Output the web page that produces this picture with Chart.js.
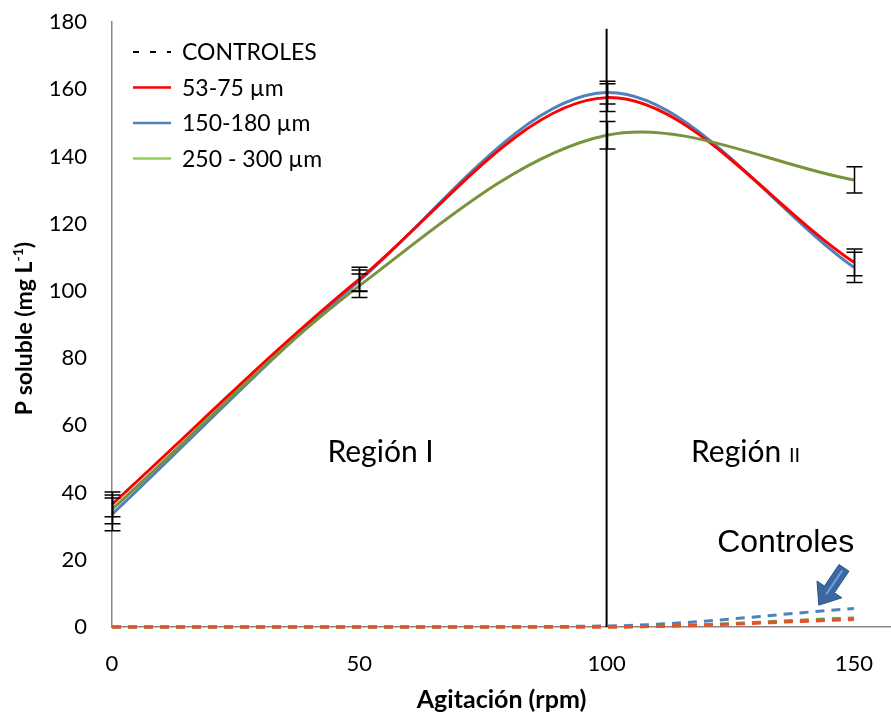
<!DOCTYPE html>
<html>
<head>
<meta charset="utf-8">
<script src="https://cdn.jsdelivr.net/npm/chart.js@4.4.1/dist/chart.umd.min.js"></script>
<style>
  html, body { margin: 0; padding: 0; background: #fff; }
  #wrap { width: 891px; height: 715px; }
</style>
</head>
<body>
<div id="wrap"><canvas id="chart" width="891" height="715"></canvas></div>
<script>
// Agitación (rpm) vs P soluble (mg L-1)
const agitacion = [0, 50, 100, 150];
const xTicks = [0, 50, 100, 150];

const p53_75 = [36.5, 103.5, 157.5, 108.5];
const err53_75 = [3.7, 3.5, 4.1, 4.0];
const p150_180 = [33.5, 103, 159, 107];
const err150_180 = [4.9, 3.2, 3.4, 4.5];
const p250_300 = [35, 101.5, 146.3, 133];
const err250_300 = [4.3, 3.5, 4.1, 3.9];

const ctrl53_75 = [0, 0, 0, 2.2];
const ctrl150_180 = [0, 0, 0.3, 5.5];
const ctrl250_300 = [0, 0, 0, 2.7];

const limiteRegion = 100;   // frontera Región I / Región II

const RED = '#FF0000';
const BLUE = '#4F81BD';
const GREEN = '#77933C';
const CALIBRI = 'Lato, Carlito, "Liberation Sans", sans-serif';

const pts = vals => agitacion.map((x, i) => ({ x: x, y: vals[i] }));

function solid(label, vals, color) {
  return {
    label: label, data: pts(vals), borderColor: color, backgroundColor: color,
    borderWidth: 3, pointRadius: 0, tension: 0.33, fill: false, clip: false
  };
}
function dashed(label, vals, color) {
  return {
    label: label, data: pts(vals), borderColor: color, backgroundColor: color,
    borderWidth: 3, borderDash: [9, 7], pointRadius: 0,
    cubicInterpolationMode: 'monotone', fill: false, clip: false
  };
}

const errorSeries = [
  { vals: p150_180, err: err150_180 },
  { vals: p53_75, err: err53_75 },
  { vals: p250_300, err: err250_300 }
];

const legendItems = [
  { text: 'CONTROLES', color: '#000', dash: [6, 11] },
  { text: '53-75 µm', color: RED },
  { text: '150-180 µm', color: BLUE },
  { text: '250 - 300 µm', color: '#92D050' }
];

// error bars, drawn from the scales
const errorBars = {
  id: 'errorBars',
  afterDatasetsDraw(chart) {
    const { ctx, scales: { x, y } } = chart;
    ctx.save();
    ctx.strokeStyle = '#000';
    ctx.lineWidth = 1.5;
    errorSeries.forEach(s => {
      agitacion.forEach((a, i) => {
        const px = Math.round(x.getPixelForValue(a)) + 0.5;
        const top = y.getPixelForValue(s.vals[i] + s.err[i]);
        const bot = y.getPixelForValue(s.vals[i] - s.err[i]);
        ctx.beginPath();
        ctx.moveTo(px, top); ctx.lineTo(px, bot);
        ctx.moveTo(px - 8, top); ctx.lineTo(px + 8, top);
        ctx.moveTo(px - 8, bot); ctx.lineTo(px + 8, bot);
        ctx.stroke();
      });
    });
    ctx.restore();
  }
};

function drawArrow(ctx, x0, y0, x1, y1) {
  const dx = x1 - x0, dy = y1 - y0, len = Math.hypot(dx, dy);
  const ux = dx / len, uy = dy / len, px = -uy, py = ux;
  const hl = 19, sw = 6, hw = 15;
  const bx = x1 - ux * hl, by = y1 - uy * hl;
  ctx.save();
  ctx.beginPath();
  ctx.moveTo(x0 + px * sw, y0 + py * sw);
  ctx.lineTo(bx + px * sw, by + py * sw);
  ctx.lineTo(bx + px * hw, by + py * hw);
  ctx.lineTo(x1, y1);
  ctx.lineTo(bx - px * hw, by - py * hw);
  ctx.lineTo(bx - px * sw, by - py * sw);
  ctx.lineTo(x0 - px * sw, y0 - py * sw);
  ctx.closePath();
  ctx.fillStyle = '#3B68A2';
  ctx.fill();
  ctx.strokeStyle = '#2D5488';
  ctx.lineWidth = 1;
  ctx.stroke();
  ctx.beginPath();
  ctx.moveTo(x0 + ux * 3, y0 + uy * 3);
  ctx.lineTo(bx + ux * 6, by + uy * 6);
  ctx.strokeStyle = '#6E9FDB';
  ctx.lineWidth = 2;
  ctx.stroke();
  ctx.restore();
}

// texts, arrow, legend and y title
const extras = {
  id: 'extras',
  afterDraw(chart) {
    const { ctx, chartArea, scales: { x, y } } = chart;
    ctx.save();
    ctx.fillStyle = '#000';
    ctx.textBaseline = 'alphabetic';

    // Región I
    ctx.font = '30px ' + CALIBRI;
    ctx.textAlign = 'center';
    ctx.fillText('Región I', x.getPixelForValue(54.3), y.getPixelForValue(49.1));

    // Región II (small II)
    ctx.textAlign = 'left';
    const w1 = ctx.measureText('Región ').width;
    ctx.font = '20px ' + CALIBRI;
    const w2 = ctx.measureText('II').width;
    const cx = x.getPixelForValue(128.1) - (w1 + w2) / 2;
    const by = y.getPixelForValue(49.1);
    ctx.font = '30px ' + CALIBRI;
    ctx.fillText('Región ', cx, by);
    ctx.font = '20px ' + CALIBRI;
    ctx.fillText('II', cx + w1, by);

    // Controles
    ctx.font = '32px "Liberation Sans", Arial, sans-serif';
    ctx.textAlign = 'center';
    ctx.fillText('Controles', x.getPixelForValue(136.2), y.getPixelForValue(22.3));

    drawArrow(ctx, x.getPixelForValue(148), y.getPixelForValue(17.6),
      x.getPixelForValue(142.9), y.getPixelForValue(6.5));

    // legend
    ctx.fillStyle = '#000';
    const lx = chartArea.left + 21, ly = chartArea.top + 30, row = 35.5;
    legendItems.forEach((it, i) => {
      const yy = ly + i * row;
      ctx.beginPath();
      ctx.setLineDash(it.dash || []);
      ctx.strokeStyle = it.color;
      ctx.lineWidth = it.dash ? 2 : 2.5;
      ctx.moveTo(lx, yy); ctx.lineTo(lx + 38, yy);
      ctx.stroke();
      ctx.setLineDash([]);
      ctx.font = '23px ' + CALIBRI;
      ctx.textAlign = 'left';
      ctx.textBaseline = 'middle';
      ctx.fillText(it.text, lx + 49, yy + 1);
    });

    // y axis title with superscript
    ctx.save();
    ctx.fillStyle = '#000';
    ctx.translate(25, (chartArea.top + chartArea.bottom) / 2 + 4);
    ctx.rotate(-Math.PI / 2);
    ctx.textBaseline = 'middle';
    const t1 = 'P soluble (mg L', sup = '-1', t3 = ')';
    ctx.font = 'bold 23px ' + CALIBRI;
    const a = ctx.measureText(t1).width, c = ctx.measureText(t3).width;
    ctx.font = 'bold 14px ' + CALIBRI;
    const b = ctx.measureText(sup).width;
    let sx = -(a + b + c) / 2;
    ctx.font = 'bold 23px ' + CALIBRI;
    ctx.textAlign = 'left';
    ctx.fillText(t1, sx, 0);
    ctx.font = 'bold 14px ' + CALIBRI;
    ctx.fillText(sup, sx + a, -7);
    ctx.font = 'bold 23px ' + CALIBRI;
    ctx.fillText(t3, sx + a + b, 0);
    ctx.restore();

    ctx.restore();
  }
};

new Chart(document.getElementById('chart'), {
  type: 'line',
  data: {
    datasets: [
      {
        label: 'límite', data: [{ x: limiteRegion, y: 0 }, { x: limiteRegion, y: 178 }],
        borderColor: '#000', borderWidth: 2, pointRadius: 0, tension: 0, clip: false
      },
      solid('250 - 300 µm', p250_300, GREEN),
      solid('53-75 µm', p53_75, RED),
      solid('150-180 µm', p150_180, BLUE),
      dashed('Control 53-75 µm', ctrl53_75, '#E8502A'),
      dashed('Control 250 - 300 µm', ctrl250_300, GREEN),
      dashed('Control 150-180 µm', ctrl150_180, BLUE)
    ]
  },
  options: {
    responsive: false,
    animation: false,
    devicePixelRatio: 1,
    layout: { padding: { top: 22, left: 0, right: 0, bottom: 0 } },
    plugins: { legend: { display: false }, tooltip: { enabled: false } },
    scales: {
      x: {
        type: 'linear', min: 0, max: 157.5,
        afterFit(s) { s.height = 88; s.paddingLeft = 0; s.paddingRight = 0; },
        afterBuildTicks(s) { s.ticks = xTicks.map(v => ({ value: v })); },
        grid: { display: false, drawTicks: false },
        border: { color: '#868686', width: 1.5 },
        ticks: { color: '#000', padding: 24, maxRotation: 0, font: { family: CALIBRI, size: 22 } },
        title: {
          display: true, text: 'Agitación (rpm)', color: '#000',
          padding: { top: 0, bottom: 0 },
          font: { family: CALIBRI, size: 25, weight: 'bold' }
        }
      },
      y: {
        min: 0, max: 180,
        afterFit(s) { s.width = 112; s.paddingTop = 0; s.paddingBottom = 0; },
        grid: { display: false, drawTicks: false },
        border: { color: '#868686', width: 1.5 },
        ticks: { stepSize: 20, color: '#000', padding: 25, font: { family: CALIBRI, size: 22 } }
      }
    }
  },
  plugins: [errorBars, extras]
});
</script>
</body>
</html>
